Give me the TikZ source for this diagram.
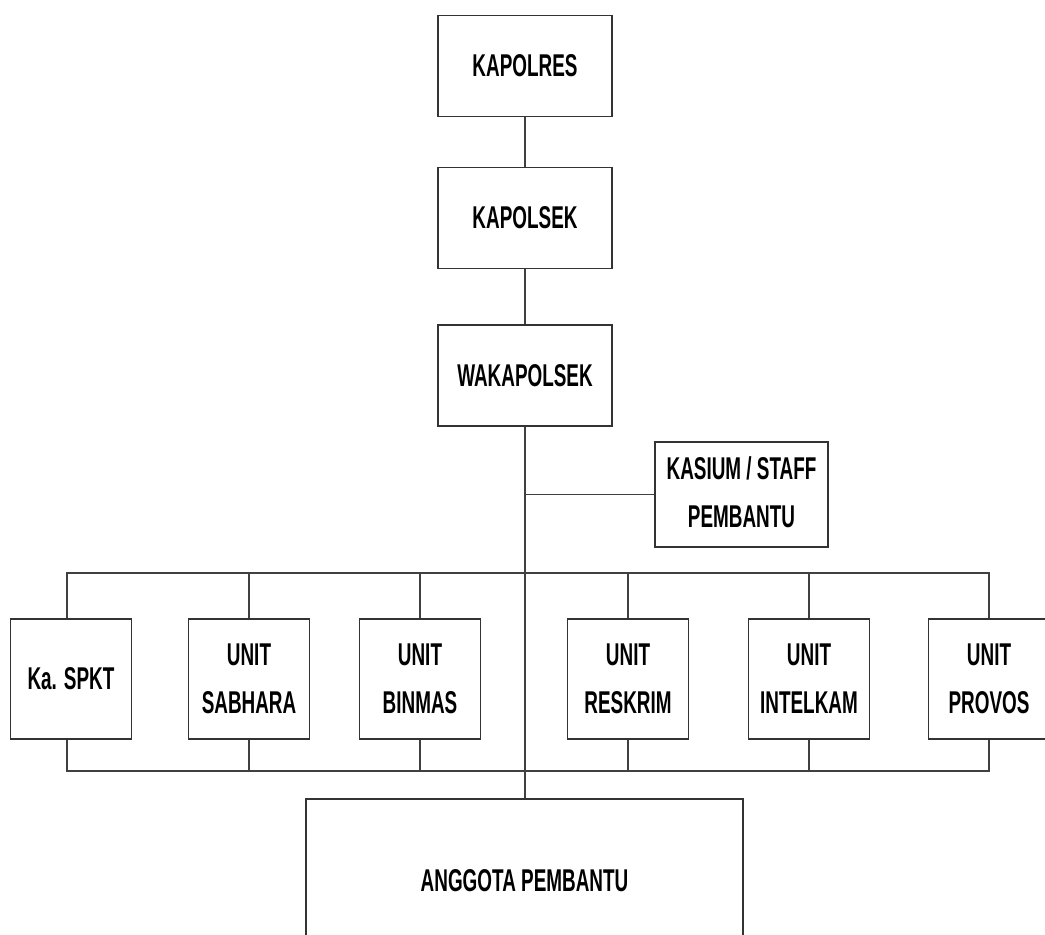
\documentclass[tikz,border=0pt]{standalone}
\usepackage{fontspec}
\newfontfamily\narrowsans[FakeStretch=0.6]{Liberation Sans}
\begin{document}
\begin{tikzpicture}[x=1pt,y=-1pt,
  box/.style={draw=black!80, line width=1.5pt, fill=white, inner sep=0pt, align=center,
    font=\narrowsans\bfseries\fontsize{31.5}{48}\selectfont},
  unitbox/.style={box, minimum width=121pt, minimum height=120pt},
  topbox/.style={box, minimum width=174pt, minimum height=101pt},
  conn/.style={draw=black!75, line width=1.3pt}]
\useasboundingbox (0,0) rectangle (1045,935);
\clip (0,0) rectangle (1045,935);
% top chain
\node[topbox] (kapolres) at (525,66) {KAPOLRES};
\node[topbox] (kapolsek) at (525,218) {KAPOLSEK};
\node[topbox] (waka) at (525,375.5) {WAKAPOLSEK};
\node[box, minimum width=173pt, minimum height=105pt, text depth=4pt] (kasium) at (741.5,494.5) {KASIUM / STAFF\\PEMBANTU};
% units
\node[unitbox] (spkt) at (71,679) {Ka. SPKT};
\node[unitbox] (sabhara) at (249,679) {UNIT\\SABHARA};
\node[unitbox] (binmas) at (420,679) {UNIT\\BINMAS};
\node[unitbox] (reskrim) at (628,679) {UNIT\\RESKRIM};
\node[unitbox] (intelkam) at (809,679) {UNIT\\INTELKAM};
\node[unitbox] (provos) at (989,679) {UNIT\\PROVOS};
\node[box, minimum width=437pt, minimum height=164pt] (anggota) at (524.5,881) {ANGGOTA PEMBANTU};
% coordinates
\coordinate (bt) at (526,573);
\coordinate (bb) at (526,771);
\coordinate (kbranch) at (526,494.5);
% connectors
\draw[conn] (kapolres.south) -- (kapolsek.north);
\draw[conn] (kapolsek.south) -- (waka.north);
\draw[conn] (waka.south) -- (anggota.north -| waka.south);
\draw[conn] (kbranch) -- (kasium.west);
\draw[conn] (spkt.north -| 67,0) -- (bt -| 67,0) -- (bt -| provos.north) -- (provos.north);
\draw[conn] (spkt.south -| 67,0) -- (bb -| 67,0) -- (bb -| provos.south) -- (provos.south);
\foreach \n in {sabhara,binmas,reskrim,intelkam}{
  \draw[conn] (\n.north) -- (bt -| \n.north);
  \draw[conn] (\n.south) -- (bb -| \n.south);
}
\end{tikzpicture}
\end{document}
